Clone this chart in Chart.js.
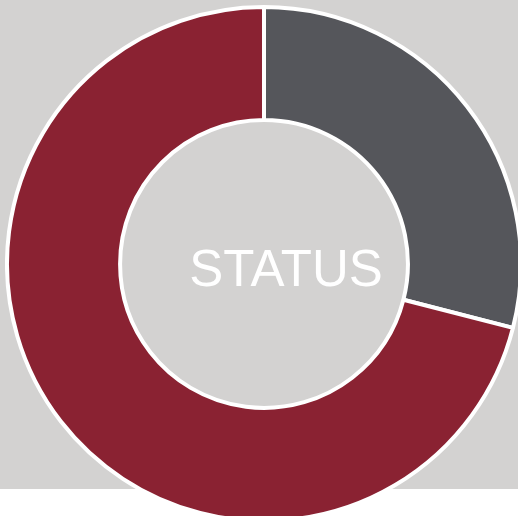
<!DOCTYPE html>
<html>
<head>
<meta charset="utf-8">
<script src="https://cdn.jsdelivr.net/npm/chart.js@4/dist/chart.umd.min.js"></script>
<style>
  html, body { margin: 0; padding: 0; background: #ffffff; overflow: hidden; width: 518px; height: 516px; }
  #bg { position: absolute; left: 0; top: 0; width: 518px; height: 489px; background: #d3d2d1; }
  #statuschart { position: absolute; left: 5px; top: 5px; }
</style>
</head>
<body>
<div id="bg"></div>
<canvas id="statuschart" width="518" height="518"></canvas>
<script>
// du lieu
var labels = ["Khác", "Status"];
var values = [29, 71];
var colors = ["#55565b", "#8a2232"];
var centerText = "STATUS";

// chu o giua vong
var centerLabel = {
    id: 'centerLabel',
    afterDraw: function (chart) {
        var c = chart.ctx;
        var meta = chart.getDatasetMeta(0).data[0];
        c.save();
        c.fillStyle = '#ffffff';
        c.font = '51px "Liberation Sans", Arial, sans-serif';
        c.textAlign = 'center';
        c.textBaseline = 'alphabetic';
        c.fillText(centerText, meta.x + 22, meta.y + 22);
        c.restore();
    }
};

var ctx = document.getElementById('statuschart').getContext('2d');
var myChart = new Chart(ctx, {
    type: 'doughnut',
    data: {
        labels: labels,
        datasets: [{
            data: values,
            backgroundColor: colors,
            borderColor: '#ffffff',
            borderWidth: 4
        }]
    },
    options: {
        responsive: false,
        animation: false,
        cutout: '56%',
        plugins: {
            legend: { display: false },
            tooltip: { enabled: false }
        }
    },
    plugins: [centerLabel]
});
</script>
</body>
</html>
